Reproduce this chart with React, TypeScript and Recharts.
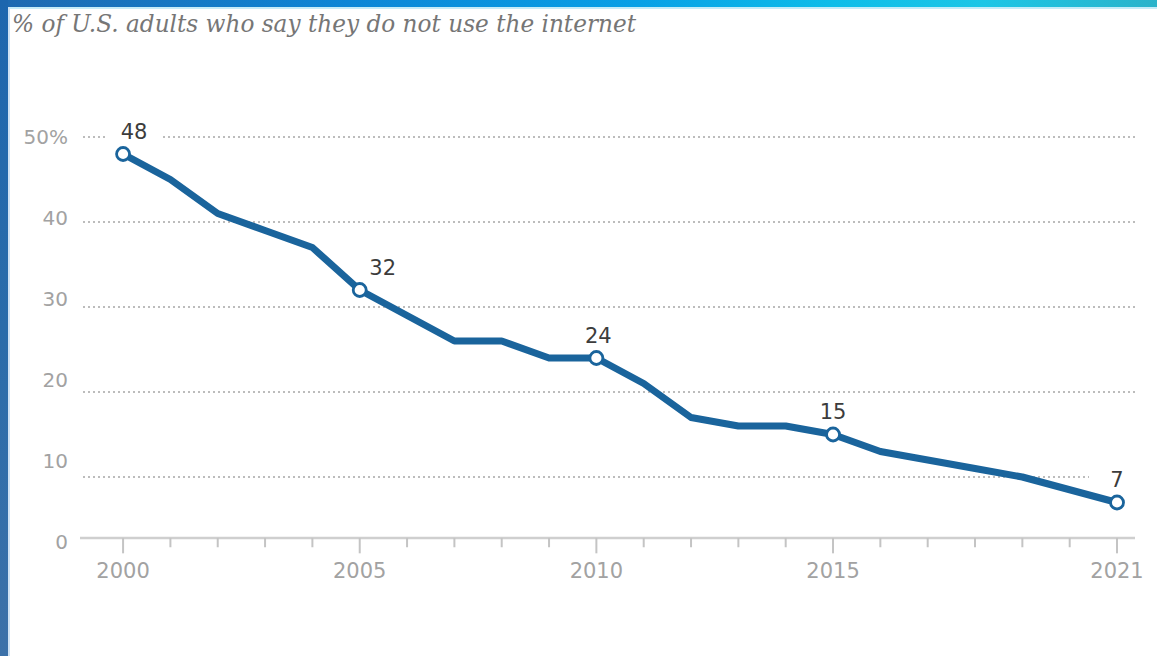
import React from "react";
import { LineChart, Line, XAxis, YAxis, ReferenceLine } from "recharts";

const years = [2000, 2001, 2002, 2003, 2004, 2005, 2006, 2007, 2008, 2009, 2010, 2011, 2012, 2013, 2014, 2015, 2016, 2018, 2019, 2021];
const values = [48, 45, 41, 39, 37, 32, 29, 26, 26, 24, 24, 21, 17, 16, 16, 15, 13, 11, 10, 7];
const labeledYears = [2000, 2005, 2010, 2015, 2021];
const yTicks = [0, 10, 20, 30, 40, 50];
const gridValues = [10, 20, 30, 40, 50];
const xTickLabels = [2000, 2005, 2010, 2015, 2021];
const allYears = Array.from({ length: 22 }, (_, i) => 2000 + i);

const TITLE = "% of U.S. adults who say they do not use the internet";

const data = years.map((y, i) => ({ year: y, value: values[i] }));

const LINE_COLOR = "#1a649c";
const LABEL_DX: Record<number, number> = { 2000: 11, 2005: 23, 2010: 2 };

const renderDot = (props: any) => {
  const { cx, cy, payload, index } = props;
  if (!labeledYears.includes(payload.year)) return <g key={`d${index}`} />;
  return <circle key={`d${index}`} cx={cx} cy={cy} r={6.5} fill="#fff" stroke={LINE_COLOR} strokeWidth={2.8} />;
};

const renderLabel = (props: any) => {
  const { x, y, value, index } = props;
  const yr = years[index];
  if (!labeledYears.includes(yr)) return <g key={`l${index}`} />;
  const cx = x + (LABEL_DX[yr] || 0);
  const cy = y - 23;
  return (
    <g key={`l${index}`}>
      <rect x={cx - 28} y={cy - 11} width={56} height={22} fill="#fff" />
      <text x={cx} y={cy} dy="0.36em" textAnchor="middle" fontFamily="'DejaVu Sans', sans-serif" fontSize={21} fill="#3c3c3c">
        {value}
      </text>
    </g>
  );
};

export default function App() {
  return (
    <div style={{ position: "absolute", left: 0, top: 0, width: 1157, height: 656, background: "#fff", overflow: "hidden" }}>
      <div style={{ position: "absolute", left: 0, top: 0, width: 1157, height: 7, background: "linear-gradient(90deg, #1f69b0 0%, #0c86d6 30%, #07a0e6 55%, #0dbde9 72%, #1cc6e6 85%, #2bb3ca 100%)" }} />
      <div style={{ position: "absolute", left: 0, top: 7, width: 1157, height: 2, background: "#c6ecf8" }} />
      <div style={{ position: "absolute", left: 0, top: 0, width: 8, height: 656, background: "linear-gradient(180deg, #1d66ae 0%, #2a6caa 50%, #3c71a9 100%)" }} />
      <div style={{ position: "absolute", left: 8, top: 7, width: 2, height: 649, background: "#cfe2f4" }} />
      <svg style={{ position: "absolute", left: 0, top: 0 }} width={700} height={45}>
        <text x={12} y={32} fontFamily="'DejaVu Serif', serif" fontStyle="italic" fontSize={25} fill="#767676" textLength={624} lengthAdjust="spacingAndGlyphs">
          {TITLE}
        </text>
      </svg>
      <div style={{ position: "absolute", left: 0, top: 0 }}>
        <LineChart width={1157} height={656} data={data} margin={{ top: 137, right: 22, bottom: 0, left: 10 }}>
          <XAxis
            dataKey="year"
            type="number"
            domain={[1999.09, 2021.38]}
            ticks={xTickLabels}
            axisLine={false}
            tickLine={false}
            tickSize={0}
            tickMargin={1}
            height={94}
            tick={{ fontFamily: "'DejaVu Sans', sans-serif", fontSize: 21, fill: "#a2a2a2" }}
          />
          <YAxis
            yAxisId="labels"
            type="number"
            domain={[-2.47, 50]}
            allowDataOverflow
            ticks={yTicks}
            width={70}
            axisLine={false}
            tickLine={false}
            tickSize={0}
            tickMargin={12}
            tickFormatter={(v: number) => (v === 50 ? "50%" : String(v))}
            tick={{ fontFamily: "'DejaVu Sans', sans-serif", fontSize: 20, fill: "#a2a2a2" }}
          />
          <YAxis yAxisId="data" type="number" domain={[0, 50]} orientation="right" width={0} hide />
          {gridValues.map((g) => (
            <ReferenceLine key={`g${g}`} yAxisId="data" y={g} stroke="#bcbcbc" strokeWidth={2} strokeDasharray="2 3" />
          ))}
          <ReferenceLine yAxisId="labels" y={0.5} stroke="#cfcfcf" strokeWidth={2.5} />
          {allYears.map((yr) => (
            <ReferenceLine
              key={`t${yr}`}
              yAxisId="labels"
              segment={[
                { x: yr, y: 0.5 },
                { x: yr, y: xTickLabels.includes(yr) ? -1.4 : -0.65 },
              ]}
              stroke="#c4c4c4"
              strokeWidth={2}
            />
          ))}
          <Line
            yAxisId="labels"
            dataKey="value"
            stroke="none"
            dot={false}
            activeDot={false}
            legendType="none"
            isAnimationActive={false}
          />
          <Line
            yAxisId="data"
            dataKey="value"
            type="linear"
            stroke={LINE_COLOR}
            strokeWidth={7}
            strokeLinejoin="round"
            dot={renderDot}
            activeDot={false}
            label={renderLabel}
            isAnimationActive={false}
          />
        </LineChart>
      </div>
    </div>
  );
}
